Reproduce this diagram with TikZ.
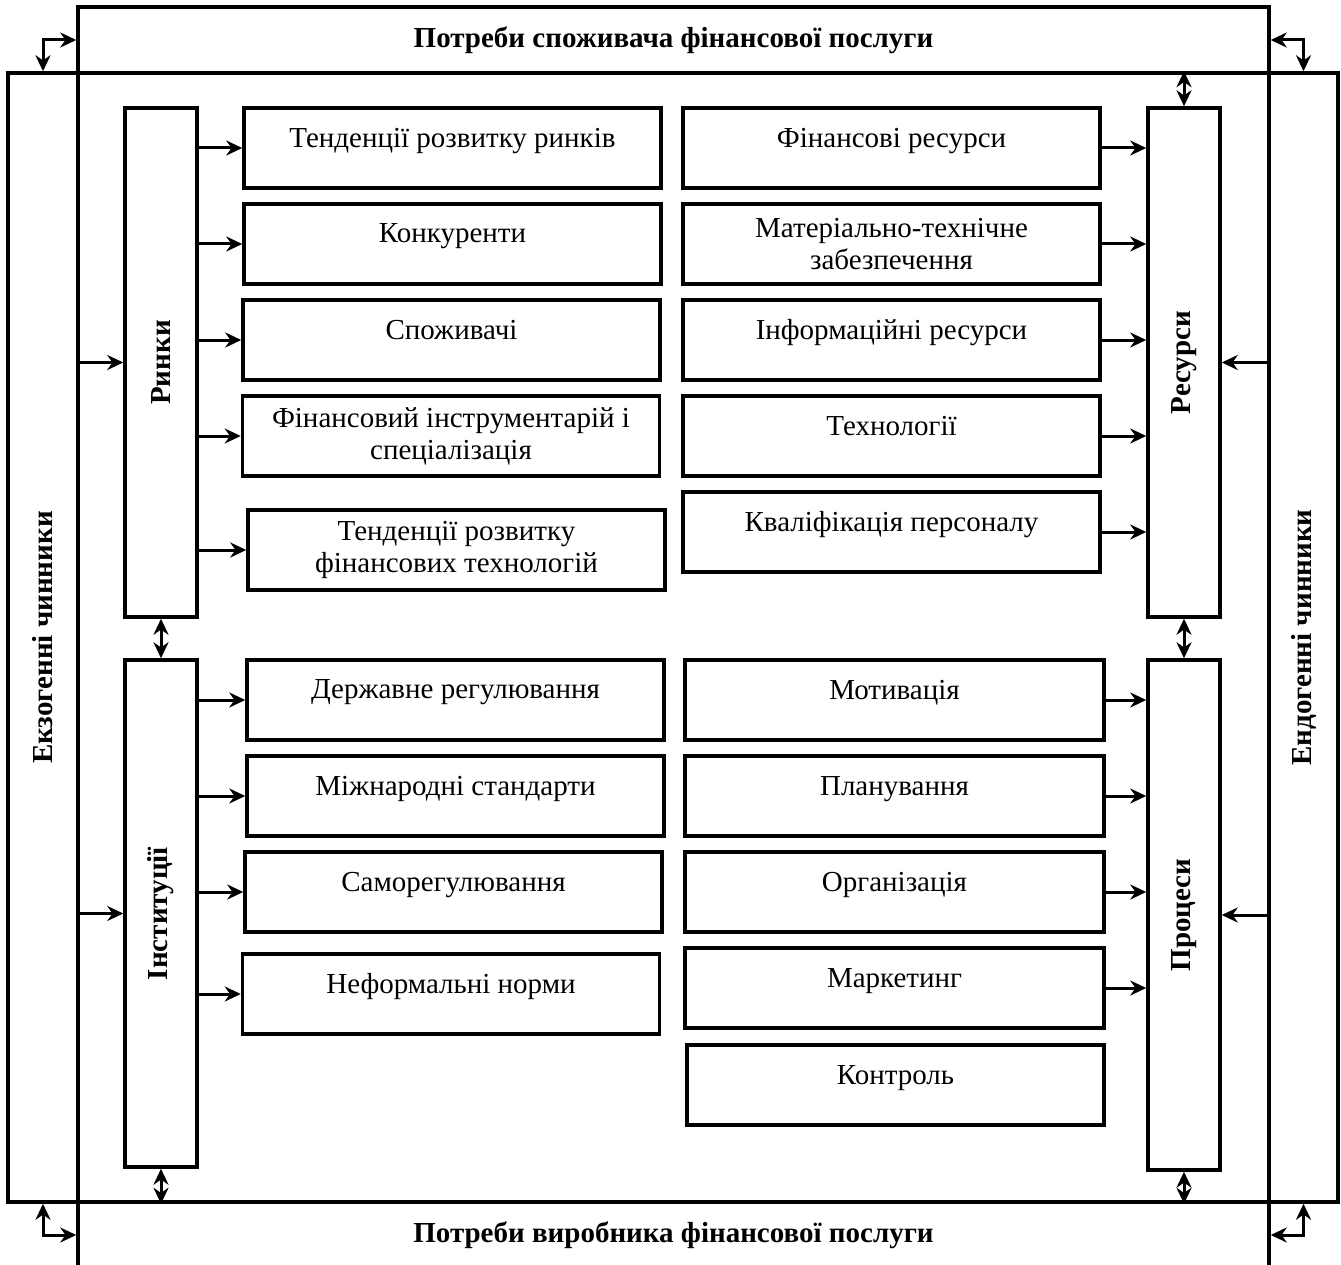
\documentclass[tikz,border=0pt]{standalone}
\usepackage{fontspec}
\setmainfont{Liberation Serif}
\usetikzlibrary{arrows.meta}

\begin{document}
\begin{tikzpicture}[x=1pt, y=-1pt]
        \tikzstyle{every node}=[rectangle, draw=black, line width=3.5pt, inner sep=2pt, align=center, font=\fontsize{29}{32}\selectfont, text=black]
        \tikzstyle{item}=[minimum width=417pt, minimum height=80pt]
        \tikzstyle{oneline}=[item, text depth=21pt]
        \tikzstyle{heading}=[font=\fontsize{29}{32}\selectfont\bfseries]
        \tikzstyle{pillar}=[heading, minimum width=72pt]
        \tikzstyle{edge}=[black, line width=3pt, -{Stealth[length=16pt, width=15pt]}]
        \tikzstyle{twoway}=[black, line width=3pt, {Stealth[length=16pt, width=15pt]}-{Stealth[length=16pt, width=15pt]}]

        \useasboundingbox (0,0) rectangle (1341,1265);

        \node[minimum width=1330pt, minimum height=1129pt] (frame) at (673,637.5) {};
        \node[heading, minimum width=1191pt, minimum height=66pt] (cons) at (673.5,40) {Потреби споживача фінансової послуги};
        \node[heading, minimum width=1191pt, minimum height=66pt] (prod) at (673.5,1235) {Потреби виробника фінансової послуги};
        \node[pillar, minimum width=70pt, minimum height=1129pt] (exo) at (43,637.5) {\rotatebox{90}{Екзогенні чинники}};
        \node[pillar, minimum width=69pt, minimum height=1129pt] (endo) at (1303.5,637.5) {\rotatebox{90}{Ендогенні чинники}};

        \node[pillar, minimum height=509pt] (rynky) at (161,362.5)  {\rotatebox{90}{Ринки}};
        \node[pillar, minimum height=507pt] (inst)  at (161,913.5)  {\rotatebox{90}{Інституції}};
        \node[pillar, minimum height=509pt] (res)   at (1184,362.5) {\rotatebox{90}{Ресурси}};
        \node[pillar, minimum height=510pt] (proc)  at (1184,915)   {\rotatebox{90}{Процеси}};

        \node[oneline] (t1) at (452.5,148) {Тенденції розвитку ринків};
        \node[oneline] (t2) at (452.5,244) {Конкуренти};
        \node[oneline] (t3) at (451.5,340) {Споживачі};
        \node[item]    (t4) at (451,436)   {Фінансовий інструментарій і\\спеціалізація};
        \node[item]    (t5) at (456.5,550) {Тенденції розвитку\\фінансових технологій};

        \node[oneline] (r1) at (891.5,148) {Фінансові ресурси};
        \node[item]    (r2) at (891.5,244) {Матеріально-технічне\\забезпечення};
        \node[oneline] (r3) at (891.5,340) {Інформаційні ресурси};
        \node[oneline] (r4) at (891.5,436) {Технології};
        \node[oneline] (r5) at (891.5,532) {Кваліфікація персоналу};

        \node[oneline] (i1) at (455.5,700) {Державне регулювання};
        \node[oneline] (i2) at (455.5,796) {Міжнародні стандарти};
        \node[oneline] (i3) at (453.5,892) {Саморегулювання};
        \node[oneline] (i4) at (451,994)   {Неформальні норми};

        \node[oneline, minimum width=419pt] (p1) at (894.5,700) {Мотивація};
        \node[oneline, minimum width=419pt] (p2) at (894.5,796) {Планування};
        \node[oneline, minimum width=419pt] (p3) at (894.5,892) {Організація};
        \node[oneline, minimum width=419pt] (p4) at (894.5,988) {Маркетинг};
        \node[oneline] (p5) at (895.5,1085) {Контроль};

        \draw[edge] (rynky.east |- t1.west) -- (t1.west);
        \draw[edge] (rynky.east |- t2.west) -- (t2.west);
        \draw[edge] (rynky.east |- t3.west) -- (t3.west);
        \draw[edge] (rynky.east |- t4.west) -- (t4.west);
        \draw[edge] (rynky.east |- t5.west) -- (t5.west);

        \draw[edge] (r1.east) -- (res.west |- r1.east);
        \draw[edge] (r2.east) -- (res.west |- r2.east);
        \draw[edge] (r3.east) -- (res.west |- r3.east);
        \draw[edge] (r4.east) -- (res.west |- r4.east);
        \draw[edge] (r5.east) -- (res.west |- r5.east);

        \draw[edge] (inst.east |- i1.west) -- (i1.west);
        \draw[edge] (inst.east |- i2.west) -- (i2.west);
        \draw[edge] (inst.east |- i3.west) -- (i3.west);
        \draw[edge] (inst.east |- i4.west) -- (i4.west);

        \draw[edge] (p1.east) -- (proc.west |- p1.east);
        \draw[edge] (p2.east) -- (proc.west |- p2.east);
        \draw[edge] (p3.east) -- (proc.west |- p3.east);
        \draw[edge] (p4.east) -- (proc.west |- p4.east);

        \draw[edge] (exo.east |- rynky.west) -- (rynky.west);
        \draw[edge] (exo.east |- inst.west) -- (inst.west);
        \draw[edge] (endo.west |- res.east) -- (res.east);
        \draw[edge] (endo.west |- proc.east) -- (proc.east);

        \draw[twoway] (rynky.south) -- (inst.north);
        \draw[twoway] (res.south) -- (proc.north);
        \draw[twoway] (res.north |- frame.north) -- (res.north);
        \draw[twoway] (inst.south) -- (inst.south |- frame.south);
        \draw[twoway] (proc.south) -- (proc.south |- frame.south);

        \draw[twoway] (cons.west) -| (exo.north);
        \draw[twoway] (cons.east) -| (endo.north);
        \draw[twoway] (prod.west) -| (exo.south);
        \draw[twoway] (prod.east) -| (endo.south);
\end{tikzpicture}
\end{document}
